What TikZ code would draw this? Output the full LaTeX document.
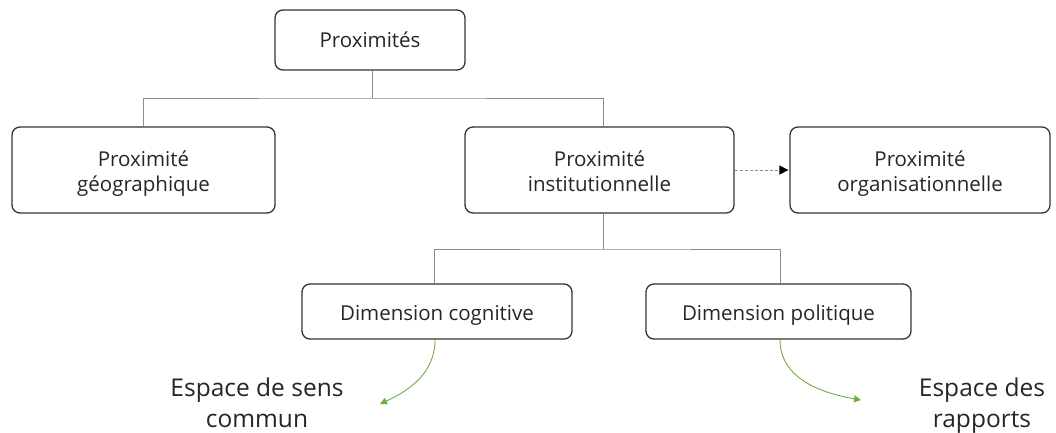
\documentclass[tikz,border=0pt]{standalone}
\usepackage{fontspec}
\setmainfont{Open Sans}
\usetikzlibrary{arrows.meta}
\definecolor{boxline}{HTML}{333333}
\definecolor{conn}{HTML}{8C8C8C}
\definecolor{grn}{HTML}{70AD47}
\newcommand\btxt[1]{\begin{tabular}{@{}c@{}}\rule{0pt}{25pt}#1\end{tabular}}
\tikzset{
  box/.style={draw=boxline, line width=1.3pt, rounded corners=8pt, align=center,
    font=\fontsize{20.5}{24.5}\selectfont, text=black!85, inner sep=0pt},
  bigbox/.style={box, minimum height=86pt},
  smallbox/.style={box, minimum height=55pt},
  tree/.style={draw=conn, line width=1pt},
  greenarrow/.style={draw=grn, line width=0.9pt, -{Triangle[length=7pt,width=7pt]}},
  lbl/.style={align=center, font=\fontsize{24.5}{31}\selectfont, text=black!85, inner sep=0pt}
}
\begin{document}
\begin{tikzpicture}[x=1pt,y=-1pt]
\useasboundingbox (0,0) rectangle (1056,432);
\node[box, minimum width=190pt, minimum height=60pt] (top) at (370,40) {Proximités};
\node[bigbox, minimum width=263pt] (geo) at (143.5,170) {\btxt{Proximité\\géographique}};
\node[bigbox, minimum width=269pt] (inst) at (599.5,170) {\btxt{Proximité\\institutionnelle}};
\node[bigbox, minimum width=260pt] (org) at (920,170) {\btxt{Proximité\\organisationnelle}};
\node[smallbox, minimum width=270pt] (cog) at (437,311.5) {\btxt{Dimension cognitive}};
\node[smallbox, minimum width=265pt] (pol) at (778.5,311.5) {\btxt{Dimension politique}};
\node[lbl] (e1) at (257,403) {Espace de sens\\commun};
\node[lbl] (e2) at (982,406) {Espace des\\rapports};
\coordinate (j1) at (372,98);
\coordinate (j2) at (603,249);
\coordinate (a1) at (380,404);
\coordinate (a2) at (861,400);
\draw[tree] (top.south -| j1) -- (j1);
\draw[tree] (geo.north) |- (j1) -| (inst.north -| 603,0);
\draw[tree] (inst.south -| j2) -- (j2);
\draw[tree] (cog.north -| 434,0) |- (j2) -| (pol.north -| 780,0);
\draw[conn, line width=0.9pt, dash pattern=on 3pt off 2pt, -{Triangle[length=9pt,width=9pt,color=black]}, shorten >=1pt] (inst.east) -- (org.west);
\draw[greenarrow] (cog.south -| 435,0) to[out=-90, in=25] (a1);
\draw[greenarrow] (pol.south -| 780,0) to[out=-90, in=170] (a2);
\end{tikzpicture}
\end{document}
